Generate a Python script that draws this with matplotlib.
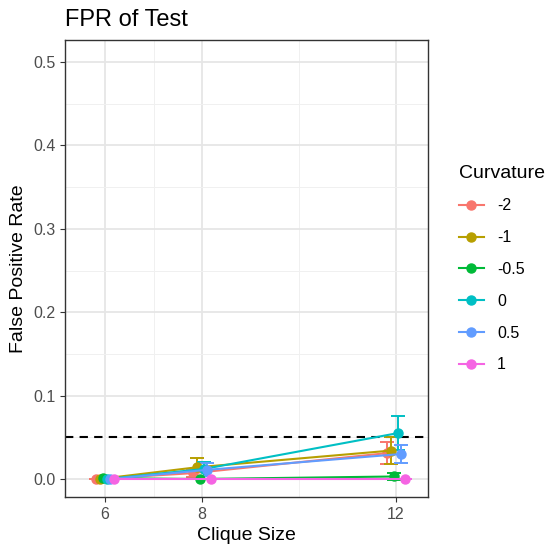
import matplotlib
matplotlib.use("Agg")
import matplotlib.pyplot as plt
import numpy as np

plt.rcParams["font.family"] = ["Liberation Sans", "DejaVu Sans"]

clique_sizes = [6, 8, 12]
curvatures = ["-2", "-1", "-0.5", "0", "0.5", "1"]
colors = ["#F8766D", "#B79F00", "#00BA38", "#00BFC4", "#619CFF", "#F564E3"]

fpr_mean = {
    "-2":   [0.000, 0.007, 0.031],
    "-1":   [0.000, 0.014, 0.034],
    "-0.5": [0.001, 0.000, 0.003],
    "0":    [0.000, 0.012, 0.055],
    "0.5":  [0.000, 0.011, 0.030],
    "1":    [0.000, 0.000, 0.000],
}
fpr_err = {
    "-2":   [0.000, 0.005, 0.013],
    "-1":   [0.000, 0.011, 0.016],
    "-0.5": [0.000, 0.000, 0.004],
    "0":    [0.000, 0.008, 0.020],
    "0.5":  [0.000, 0.008, 0.011],
    "1":    [0.000, 0.000, 0.000],
}

fig = plt.figure(figsize=(5.46, 5.5), dpi=100)
ax = fig.add_axes([65 / 546, 53 / 550, 363 / 546, 457 / 550])

# dodge like position_dodge
step = 0.075
x = np.array(clique_sizes, dtype=float)
for i, (c, col) in enumerate(zip(curvatures, colors)):
    xs = x + (i - 2.5) * step
    m = np.array(fpr_mean[c])
    e = np.array(fpr_err[c])
    ax.errorbar(xs, m, yerr=e, color=col, capsize=5, capthick=1.4, elinewidth=1.4,
                fmt="none", zorder=3)
    ax.plot(xs, m, color=col, lw=1.5, marker="o", ms=6.5, label=c, zorder=4)

ax.axhline(0.05, color="black", ls=(0, (4, 3)), lw=1.5, zorder=2)

ax.set_xlim(5.175, 12.66)
ax.set_ylim(-0.0216, 0.5264)
ax.set_xticks(clique_sizes)
ax.set_yticks([0.0, 0.1, 0.2, 0.3, 0.4, 0.5])
ax.set_xticks([7, 10], minor=True)
ax.set_yticks([0.05, 0.15, 0.25, 0.35, 0.45], minor=True)
ax.grid(which="major", color="#E6E6E6", lw=1.3, zorder=0)
ax.grid(which="minor", color="#F0F0F0", lw=0.7, zorder=0)
ax.set_axisbelow(True)
ax.tick_params(which="minor", length=0)
ax.tick_params(which="major", length=3.5, color="#333333", labelsize=11.5, labelcolor="#4D4D4D")
for s in ax.spines.values():
    s.set_color("#333333")
    s.set_linewidth(1.0)

ax.set_xlabel("Clique Size", fontsize=14)
ax.set_ylabel("False Positive Rate", fontsize=14)
ax.set_title("FPR of Test", loc="left", fontsize=17, pad=10)

leg = ax.legend(title="Curvature", loc="center left", bbox_to_anchor=(1.045, 0.5),
                frameon=False, fontsize=11.5, title_fontsize=14, labelspacing=1.05,
                handlelength=1.6, alignment="left")

fig.savefig("out.png", dpi=100)
